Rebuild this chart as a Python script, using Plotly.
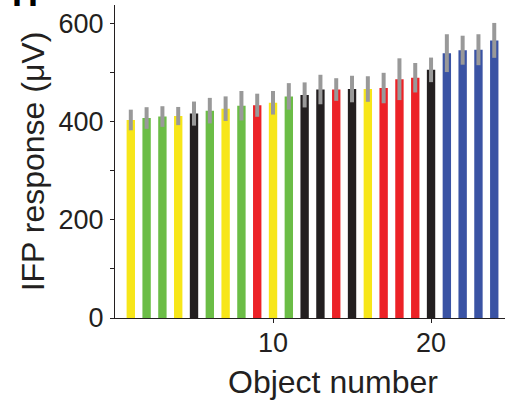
import plotly.graph_objects as go

objects = list(range(1, 25))
responses = [403, 407, 410, 411, 416, 422, 426, 432, 433, 438, 451, 454,
             465, 465, 466, 466, 468, 486, 489, 505, 539, 545, 546, 565]
errors = [21, 22, 21, 18.5, 24.5, 26, 25, 30, 23.5, 24, 27, 25.5,
          30, 23, 27, 26, 31, 42.5, 30, 25, 38.5, 29.5, 31.5, 35.5]
groups = ["yellow", "green", "green", "yellow", "black", "green", "yellow", "green",
          "red", "yellow", "green", "black", "black", "red", "black", "yellow",
          "red", "red", "red", "black", "blue", "blue", "blue", "blue"]
palette = {"yellow": "#f7e619", "green": "#6bbd46", "red": "#ec2227",
           "black": "#231f20", "blue": "#3a53a4"}
y_ticks = [0, 100, 200, 300, 400, 500, 600]
y_ticktext = ["0", "", "200", "", "400", "", "600"]
x_ticks = [10, 20]

fig = go.Figure()
fig.add_trace(go.Bar(
    x=objects, y=responses, width=0.53,
    marker=dict(color=[palette[g] for g in groups], line=dict(width=0)),
    error_y=dict(type="data", array=errors, visible=True, color="#999999",
                 thickness=4, width=0),
))

font_family = "Liberation Sans, Arial, Helvetica, sans-serif"
txt = "#231f20"
fig.update_layout(
    width=506, height=402,
    margin=dict(l=115, r=1, t=5, b=84),
    paper_bgcolor="white", plot_bgcolor="white",
    showlegend=False,
    font=dict(family=font_family, size=27, color=txt),
    xaxis=dict(range=[0, 24.68], tickvals=x_ticks, ticks="outside", ticklen=4,
               tickwidth=1, tickcolor=txt, showline=True, linecolor=txt, linewidth=1,
               showgrid=False, zeroline=False, automargin=False, ticklabelstandoff=-3,
               tickfont=dict(size=27, color=txt)),
    yaxis=dict(range=[0, 637], tickvals=y_ticks, ticktext=y_ticktext, ticks="outside",
               ticklen=4, tickwidth=1, tickcolor=txt, showline=True, linecolor=txt,
               linewidth=1, showgrid=False, zeroline=False, automargin=False,
               ticklabelstandoff=1,
               tickfont=dict(size=27, color=txt),
               title=dict(text="IFP response (μV)", font=dict(size=32, color=txt), standoff=4)),
    annotations=[
        dict(text="<b>H</b>", xref="paper", yref="paper", x=-0.2695, y=0.965,
             xanchor="left", yanchor="bottom", showarrow=False,
             font=dict(size=36, color="black", family=font_family)),
        dict(text="Object number", xref="paper", yref="paper", x=0.559, y=-0.139,
             xanchor="center", yanchor="top", showarrow=False,
             font=dict(size=32, color=txt, family=font_family)),
    ],
)

fig.write_html("out.html", config={"displayModeBar": False},
               post_script="document.body.style.margin='0';")
